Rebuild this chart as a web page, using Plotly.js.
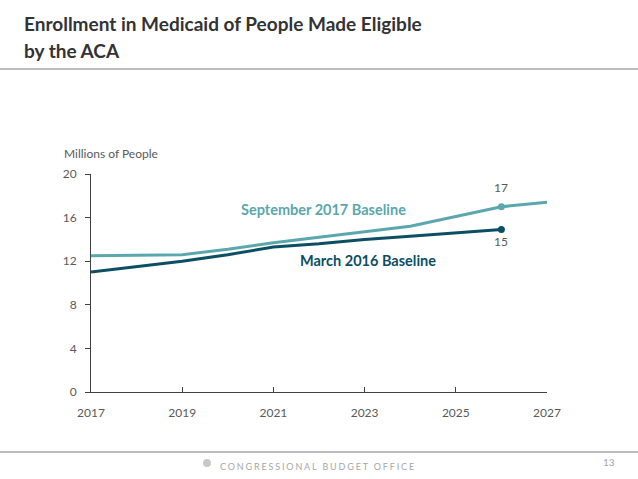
<!DOCTYPE html>
<html>
<head>
<meta charset="utf-8">
<script src="https://cdn.plot.ly/plotly-3.0.1.min.js"></script>
<style>html,body{margin:0;padding:0;background:#fff;}#chart{width:638px;height:479px;}</style>
</head>
<body>
<div id="chart"></div>
<script>
var years = [2017, 2018, 2019, 2020, 2021, 2022, 2023, 2024, 2025, 2026, 2027];
var sept2017 = [12.5, 12.55, 12.6, 13.1, 13.7, 14.2, 14.7, 15.2, 16.1, 17.0, 17.4];
var march2016Years = [2017, 2018, 2019, 2020, 2021, 2022, 2023, 2024, 2025, 2026];
var march2016 = [11.0, 11.5, 12.0, 12.6, 13.3, 13.6, 14.0, 14.3, 14.6, 14.9];
var seriesNames = ["September 2017 Baseline", "March 2016 Baseline"];
var endYear = 2026;
var endLabels = ["17", "15"];
var yTicks = [0, 4, 8, 12, 16, 20];
var xTicks = [2017, 2019, 2021, 2023, 2025, 2027];
var titleLines = ["Enrollment in Medicaid of People Made Eligible", "by the ACA"];

var cLight = "#5BA7AE", cDark = "#0C4F64";
var font = "Lato, 'Open Sans', sans-serif";

function valAt(xs, ys, x) { return ys[xs.indexOf(x)]; }

var traces = [
  {x: years, y: sept2017, mode: "lines", line: {color: cLight, width: 3}, hoverinfo: "skip", cliponaxis: false},
  {x: march2016Years, y: march2016, mode: "lines", line: {color: cDark, width: 3}, hoverinfo: "skip", cliponaxis: false},
  {x: [endYear], y: [valAt(years, sept2017, endYear)], mode: "markers", marker: {color: cLight, size: 7}, cliponaxis: false},
  {x: [endYear], y: [valAt(march2016Years, march2016, endYear)], mode: "markers", marker: {color: cDark, size: 7}, cliponaxis: false}
];

var W = 456, H = 218, L = 91, B = 392;
function px(x) { return (x - L) / W; }
function py(y) { return (B - y) / H; }

var layout = {
  width: 638, height: 479,
  margin: {l: 91, r: 91, t: 174, b: 87},
  paper_bgcolor: "#fff", plot_bgcolor: "#fff",
  showlegend: false,
  font: {family: font, color: "#595959", size: 12},
  xaxis: {
    range: [2017, 2027], tickvals: xTicks, ticktext: xTicks.map(String),
    showgrid: false, zeroline: false, showline: true, linecolor: "#404040", linewidth: 1,
    ticks: "inside", ticklen: 5, tickcolor: "#404040", ticklabelstandoff: 10,
    tickfont: {size: 12, color: "#595959"}
  },
  yaxis: {
    range: [0, 20], tickvals: yTicks, ticktext: yTicks.map(String),
    showgrid: false, zeroline: false, showline: true, linecolor: "#404040", linewidth: 1,
    ticks: "outside", ticklen: 5, tickcolor: "#404040", ticklabelstandoff: 6,
    tickfont: {size: 12, color: "#595959"}
  },
  shapes: [
    {type: "line", xref: "paper", yref: "paper", x0: px(0), x1: px(638), y0: py(69), y1: py(69), line: {color: "#a6a6a6", width: 1.5}},
    {type: "line", xref: "paper", yref: "paper", x0: px(0), x1: px(638), y0: py(452), y1: py(452), line: {color: "#a6a6a6", width: 1.5}},
    {type: "circle", xref: "paper", yref: "paper", x0: px(203), x1: px(211), y0: py(459), y1: py(467), fillcolor: "#c8c8c8", line: {color: "#c8c8c8", width: 0}}
  ],
  annotations: [
    {xref: "paper", yref: "paper", x: px(22), y: py(23), xanchor: "left", yanchor: "middle", showarrow: false,
     text: "<b>" + titleLines[0] + "</b>", font: {size: 19, color: "#333333"}},
    {xref: "paper", yref: "paper", x: px(22), y: py(50), xanchor: "left", yanchor: "middle", showarrow: false,
     text: "<b>" + titleLines[1] + "</b>", font: {size: 19, color: "#333333"}},
    {xref: "paper", yref: "paper", x: px(62), y: py(153), xanchor: "left", yanchor: "middle", showarrow: false,
     text: "Millions of People", font: {size: 12, color: "#595959"}},
    {xref: "x", yref: "y", x: 2022.09, y: 16.7, showarrow: false, text: "<b>" + seriesNames[0] + "</b>",
     font: {size: 14.5, color: cLight}},
    {xref: "x", yref: "y", x: 2023.07, y: 12.1, showarrow: false, text: "<b>" + seriesNames[1] + "</b>",
     font: {size: 14.5, color: cDark}},
    {xref: "x", yref: "y", x: endYear, y: valAt(years, sept2017, endYear), yshift: 19, showarrow: false,
     text: endLabels[0], font: {size: 12, color: "#595959"}},
    {xref: "x", yref: "y", x: endYear, y: valAt(march2016Years, march2016, endYear), yshift: -12, showarrow: false,
     text: endLabels[1], font: {size: 12, color: "#595959"}},
    {xref: "paper", yref: "paper", x: px(318), y: py(474), xanchor: "center", showarrow: false, text: "CONGRESSIONAL BUDGET OFFICE",
     font: {size: 9, color: "#a6a6a6"}},
    {xref: "paper", yref: "paper", x: px(617), y: py(470), showarrow: false, text: "13",
     font: {size: 10, color: "#a6a6a6"}}
  ]
};

Plotly.newPlot("chart", traces, layout, {staticPlot: true, displayModeBar: false}).then(function () {
  var texts = document.querySelectorAll(".annotation-text");
  texts.forEach(function (t) {
    if (t.textContent === "CONGRESSIONAL BUDGET OFFICE") {
      t.style.letterSpacing = "1.85px";
    }
  });
});
</script>
</body>
</html>
